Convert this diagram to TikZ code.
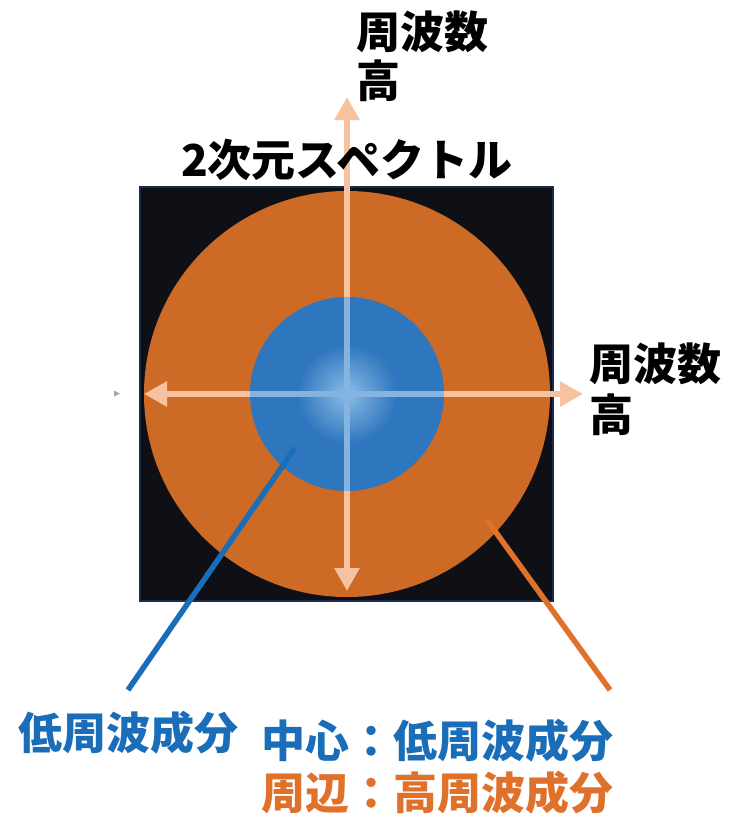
\documentclass[tikz,border=0pt]{standalone}
\usepackage{fontspec}
\setmainfont{Noto Sans CJK JP}
\usetikzlibrary{arrows.meta}
\definecolor{bgsq}{HTML}{0E1016}
\definecolor{sqedge}{HTML}{1B2A4C}
\definecolor{ringor}{HTML}{CD6A26}
\definecolor{coreblue}{HTML}{2E76BD}
\definecolor{coreglow}{HTML}{8CBCE6}
\definecolor{peach}{HTML}{F6C2A0}
\definecolor{axisblue}{HTML}{86B4E0}
\definecolor{txtblue}{HTML}{1A6DB8}
\definecolor{txtorange}{HTML}{E0712A}
\begin{document}
\begin{tikzpicture}[x=1pt,y=-1pt,
  lbl/.style={font=\fontsize{44}{50}\selectfont\bfseries, inner sep=0pt},
  axisarrow/.style={draw=peach, line width=6pt, -{Triangle[length=23pt,width=24pt]}},
  leader/.style={line width=5.5pt}]
\useasboundingbox (0,0) rectangle (736,819);
\fill[white] (0,0) rectangle (736,819);
% spectrum square
\fill[bgsq, draw=sqedge, line width=1.5pt] (140,187) rectangle (553,601);
\coordinate (c) at (347,394);
\fill[ringor] (c) circle[radius=203];
\fill[coreblue] (c) circle[radius=97];
\shade[inner color=coreglow, outer color=coreblue] (c) circle[radius=50];
% axes
\coordinate (ytop) at (347,97);
\coordinate (ybot) at (347,591);
\coordinate (xleft) at (144,394);
\coordinate (xright) at (583,394);
\draw[axisarrow] (c) -- (ytop);
\draw[axisarrow] (c) -- (ybot);
\draw[axisarrow] (c) -- (xleft);
\draw[axisarrow] (c) -- (xright);
\begin{scope}
  \clip (c) circle[radius=97];
  \draw[axisblue, line width=6pt] (ytop) -- (ybot);
  \draw[axisblue, line width=6pt] (xleft) -- (xright);
\end{scope}
% small artifact mark
\fill[gray!70] (114,390.5) -- (120,393.5) -- (114,396.5) -- cycle;
% labels
\node[lbl, align=left, anchor=north west, font=\fontsize{44}{49}\selectfont\bfseries] (toplbl) at (356,11) {周波数\\高};
\node[lbl] (title) at (347,160) {2次元スペクトル};
\node[lbl, align=left, anchor=north west, font=\fontsize{44}{51}\selectfont\bfseries] (rightlbl) at (589,343) {周波数\\高};
\node[lbl, text=txtblue] (lowlbl) at (129,733) {低周波成分};
\node[lbl, text=txtblue] (centerlbl) at (437,741) {中心：低周波成分};
\node[lbl, text=txtorange] (edgelbl) at (437,793) {周辺：高周波成分};
% leaders
\coordinate (bluestart) at (295,448);
\coordinate (orstart) at (487,520);
\coordinate (orend) at (610,690);
\draw[leader, txtblue] (bluestart) -- (128,690);
\draw[leader, txtorange] (orstart) -- (orend);
\end{tikzpicture}
\end{document}
